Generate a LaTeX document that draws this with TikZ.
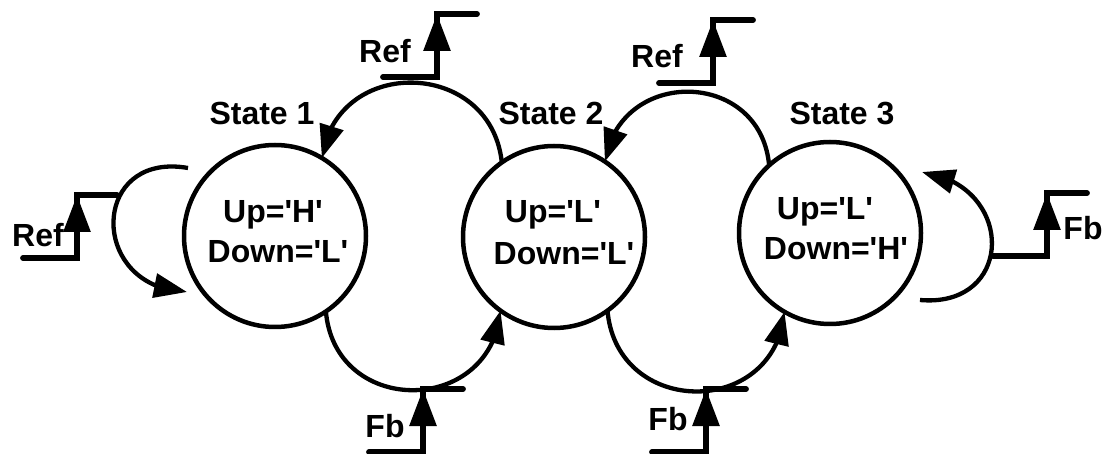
\documentclass[tikz,border=0pt]{standalone}
\usepackage{fontspec}
\setmainfont{Liberation Sans}[Ligatures=TeXOff]
\usetikzlibrary{arrows.meta,bending}
\begin{document}
\begin{tikzpicture}[x=1pt,y=1pt,
  state/.style={circle,draw,line width=4.5pt,minimum size=182pt,inner sep=0pt,outer sep=0pt},
  lbl/.style={font=\fontsize{32}{38}\selectfont\bfseries,inner sep=0pt,anchor=base},
  trans/.style={line width=4.3pt,-{Triangle[length=33pt,width=24pt]}},
  sigline/.style={line width=5.8pt,line cap=round},
  sigarrow/.style={line width=5.8pt,-{Triangle[length=37pt,width=26pt]}},
  pics/risestep/.style={code={
    \draw[sigline] (-54,0) -- (0,0) -- (0,63) -- (40,63);
    \draw[sigarrow] (0,0) -- (0,63);
  }}
]
\useasboundingbox (0,0) rectangle (1109,-454);

% the three states
\node[state] (s1) at (275,-236) {};
\node[state] (s2) at (554,-237) {};
\node[state] (s3) at (830,-233) {};

\node[lbl] (u1) at (273,-223) {Up='H'};
\node[lbl] (d1) at (278,-263) {Down='L'};
\node[lbl] (u2) at (553,-223) {Up='L'};
\node[lbl] (d2) at (564,-265) {Down='L'};
\node[lbl] (u3) at (825,-220) {Up='L'};
\node[lbl] (d3) at (836,-260) {Down='H'};

\node[lbl] (n1) at (262,-125) {State 1};
\node[lbl] (n2) at (551,-125) {State 2};
\node[lbl] (n3) at (842,-125) {State 3};

% transitions between states
\draw[trans] (s2.125) to[out=96,in=82,looseness=1.48] (s1.59);
\draw[trans] (s3.132) to[out=95,in=81,looseness=1.5] (s2.56);
\draw[trans] (s1.304) to[out=-85,in=-95,looseness=1.55] (s2.234);
\draw[trans] (s2.306) to[out=-85,in=-95,looseness=1.55] (s3.240);

% self loops
\coordinate (l1a) at (188,-168);
\coordinate (l1b) at (187,-292);
\draw[trans] (l1a) to[out=170,in=178,looseness=2.05] (l1b);
\coordinate (l3a) at (920,-300);
\coordinate (l3b) at (922,-172);
\draw[trans] (l3a) to[out=-5,in=-8,looseness=1.9] (l3b);

% rising-edge triggers
\pic at (77,-258) {risestep};
\pic at (437,-77) {risestep};
\pic at (713,-83) {risestep};
\pic at (423,-452) {risestep};
\pic at (706,-452) {risestep};
\pic at (1047,-256) {risestep};

\node[lbl] (r0) at (38,-247) {Ref};
\node[lbl] (r1) at (385,-63) {Ref};
\node[lbl] (r2) at (657,-68) {Ref};
\node[lbl] (f1) at (385,-437) {Fb};
\node[lbl] (f2) at (668,-430) {Fb};
\node[lbl] (f3) at (1083,-240) {Fb};
\end{tikzpicture}
\end{document}
